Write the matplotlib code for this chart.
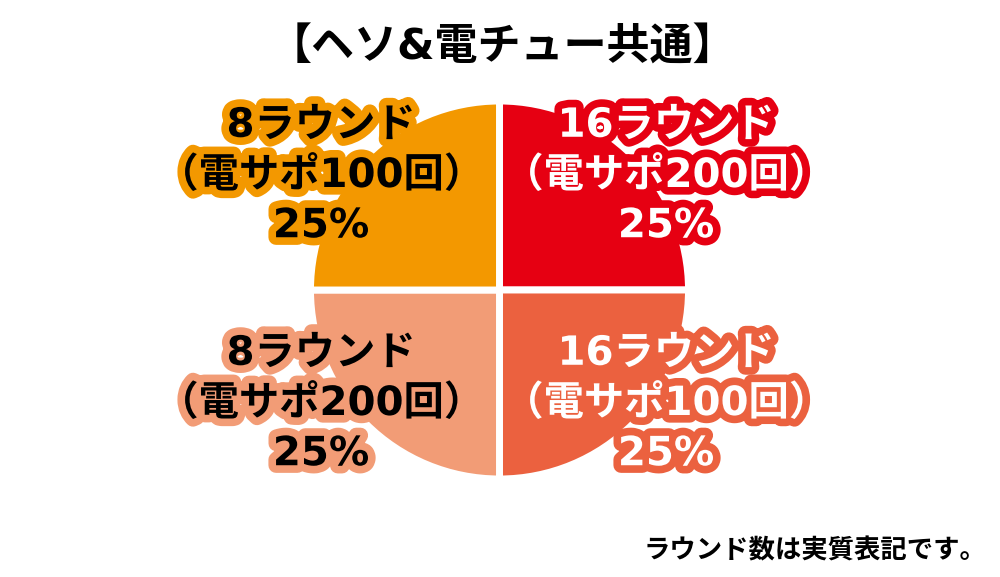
import matplotlib
matplotlib.use("Agg")
import matplotlib.pyplot as plt
import matplotlib.patheffects as pe

plt.rcParams['font.family'] = ['DejaVu Sans', 'Noto Sans CJK JP']

# Data (clockwise from 12 o'clock)
categories = ["16ラウンド\n（電サポ200回）", "16ラウンド\n（電サポ100回）",
              "8ラウンド\n（電サポ200回）", "8ラウンド\n（電サポ100回）"]
values = [25, 25, 25, 25]
colors = ["#E60012", "#EB613F", "#F29C76", "#F39800"]
text_colors = ["white", "white", "black", "black"]
title = "【ヘソ&電チュー共通】"
footnote = "ラウンド数は実質表記です。"

W, H = 1000, 577
fig = plt.figure(figsize=(W / 100, H / 100), dpi=100)
ax = fig.add_axes([0, 0, 1, 1])

cx, cy, r = 499.5, H - 290, 189
ax.pie(values, colors=colors, startangle=90, counterclock=False,
       center=(cx, cy), radius=r, frame=True,
       wedgeprops=dict(edgecolor='white', linewidth=5.0))
ax.set_xlim(0, W)
ax.set_ylim(0, H)
ax.set_aspect('equal')
ax.axis('off')

# label positions (pixel coords, y from top)
label_pos = [(666, 176), (666, 404), (321, 404), (321, 176)]
for cat, v, col, tc, (x, y) in zip(categories, values, colors, text_colors, label_pos):
    txt = f"{cat}\n{v}%"
    t = ax.text(x, H - y, txt, ha='center', va='center', fontsize=29,
                fontweight='bold', color=tc, linespacing=1.33)
    t.set_path_effects([pe.Stroke(linewidth=11, foreground=col), pe.Normal()])

ax.text(502, H - 48, title, ha='center', va='center', fontsize=31,
        fontweight='bold', color='black')
ax.text(986, H - 551, footnote, ha='right', va='center', fontsize=19,
        fontweight='bold', color='black')

fig.savefig("out.png", dpi=100)
